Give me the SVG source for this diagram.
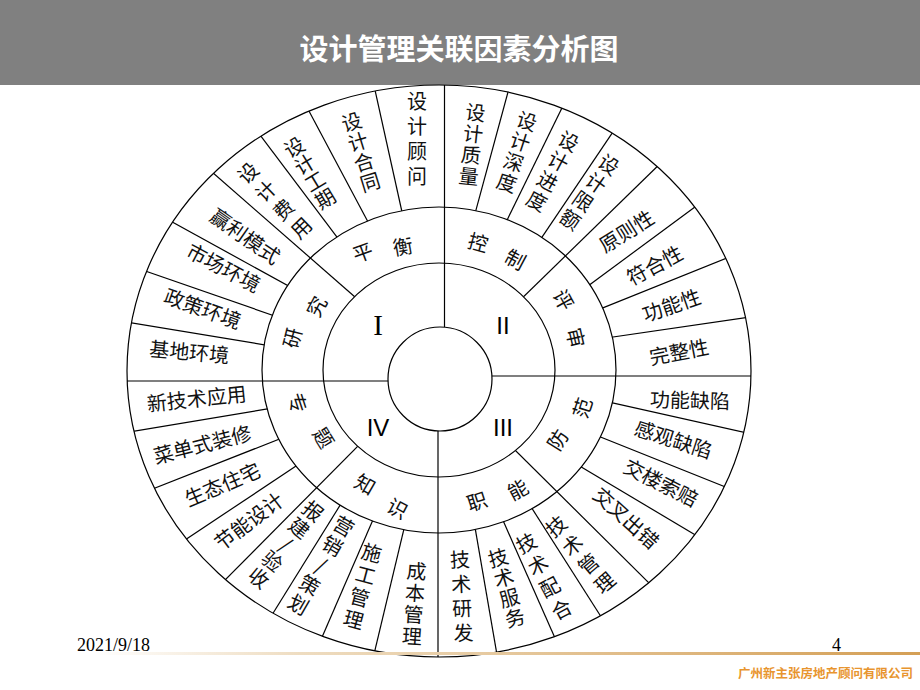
<svg xmlns="http://www.w3.org/2000/svg" width="920" height="690" viewBox="0 0 920 690">
<defs>
<style>
.ln{fill:none;stroke:#000;stroke-width:1.2}
.t{font-family:"Noto Sans CJK SC","Noto Sans CJK JP",sans-serif;font-size:20px;fill:#111;text-anchor:middle}
.rn{font-family:"Liberation Sans",Arial,sans-serif;font-size:24px;fill:#000;text-anchor:middle}
.rs{font-family:"Liberation Serif","Times New Roman",serif;font-size:29px;fill:#000;text-anchor:middle}
.ft{font-family:"Liberation Serif","Times New Roman",serif;font-size:18px;fill:#000}
</style>
<clipPath id="cA"><path clip-rule="evenodd" d="M127,371 a312,286 0 1,0 624,0 a312,286 0 1,0 -624,0 Z M262,370 a177,163 0 1,0 354,0 a177,163 0 1,0 -354,0 Z"/></clipPath>
<clipPath id="cB"><path clip-rule="evenodd" d="M127,371 a312,286 0 1,0 624,0 a312,286 0 1,0 -624,0 Z M323,370 a116,107 0 1,0 232,0 a116,107 0 1,0 -232,0 Z"/></clipPath>
<linearGradient id="fg" x1="0" x2="1" y1="0" y2="0">
<stop offset="0" stop-color="#ffffff"/>
<stop offset="0.25" stop-color="#eedcc0"/>
<stop offset="1" stop-color="#d49f55"/>
</linearGradient>
</defs>

<rect width="920" height="690" fill="#fff"/>
<g id="header">
<rect x="0" y="0" width="920" height="85" fill="#808080"/>
<text x="459" y="60" font-family="'Noto Sans CJK SC','Noto Sans CJK JP',sans-serif" font-size="29" font-weight="bold" fill="#fff" text-anchor="middle">设计管理关联因素分析图</text>
</g>

<g id="rings" class="ln">
<ellipse cx="439" cy="371" rx="312" ry="286"/>
<ellipse cx="439" cy="370" rx="177" ry="163"/>
<ellipse cx="439" cy="370" rx="116" ry="107"/>
<circle cx="440" cy="379" r="52"/>
</g>

<g id="connectors" class="ln">
<line x1="127" y1="381" x2="388" y2="381"/>
<line x1="492" y1="376" x2="751" y2="376"/>
<line x1="444.5" y1="85" x2="444.5" y2="327"/>
<line x1="438" y1="431" x2="438" y2="657"/>
<g clip-path="url(#cA)">
<line x1="371" y1="72" x2="406" y2="230"/>
<line x1="301.5" y1="97" x2="375.5" y2="236"/>
<line x1="248.5" y1="119.7" x2="348.5" y2="252.3"/>
<line x1="155" y1="212.5" x2="304" y2="294.5"/>
<line x1="129.4" y1="265.5" x2="290.6" y2="321.5"/>
<line x1="113" y1="319.7" x2="285" y2="348.3"/>
<line x1="512.8" y1="74.3" x2="471.2" y2="227.7"/>
<line x1="570" y1="91.5" x2="500" y2="234.5"/>
<line x1="623.6" y1="116.2" x2="531.4" y2="252.8"/>
<line x1="710.5" y1="195.6" x2="576.5" y2="294.4"/>
<line x1="745.3" y1="250.6" x2="586.7" y2="314.4"/>
<line x1="770.5" y1="314" x2="592.5" y2="340"/>
<line x1="115" y1="434.3" x2="287" y2="405.7"/>
<line x1="136.7" y1="495.2" x2="295.3" y2="432.8"/>
<line x1="172.2" y1="548.5" x2="308.8" y2="457.5"/>
<line x1="265.4" y1="625.5" x2="348.6" y2="491.5"/>
<line x1="315.6" y1="652" x2="379.4" y2="505"/>
<line x1="370.8" y1="667.6" x2="407.2" y2="515.4"/>
<line x1="500.2" y1="673.3" x2="472.8" y2="514.7"/>
<line x1="562.5" y1="655" x2="497.5" y2="508"/>
<line x1="607.75" y1="627.3" x2="523.25" y2="494.7"/>
<line x1="708.4" y1="542.75" x2="566.6" y2="458.25"/>
<line x1="746.75" y1="495.5" x2="584.25" y2="430.5"/>
<line x1="762.5" y1="436.4" x2="593.5" y2="398.6"/>
</g>
<g clip-path="url(#cB)">
<line x1="192" y1="154.5" x2="375" y2="314.5"/>
<line x1="678" y1="146.3" x2="503" y2="316.7"/>
<line x1="211" y1="594.2" x2="376" y2="427.8"/>
<line x1="667.5" y1="601.4" x2="498.5" y2="433.6"/>
</g>
</g>

<!-- quadrant numerals -->
<g id="q1"><text class="rs" x="378" y="335">I</text></g>
<g id="q2"><text class="rn" x="503" y="334">II</text></g>
<g id="q3"><text class="rn" x="503" y="436">III</text></g>
<g id="q4"><text class="rn" x="378" y="436">IV</text></g>

<!-- middle ring labels -->
<g id="m-pingheng">
<text class="t" transform="translate(363,253) rotate(-20)" y="7">平</text>
<text class="t" transform="translate(403,247) rotate(-10)" y="7">衡</text>
</g>
<g id="m-kongzhi">
<text class="t" transform="translate(478,243) rotate(15)" y="7">控</text>
<text class="t" transform="translate(515,260) rotate(28)" y="7">制</text>
</g>
<g id="m-pingshen">
<text class="t" transform="translate(563,300) rotate(61)" y="7">评</text>
<text class="t" transform="translate(575,338) rotate(77)" y="7">审</text>
</g>
<g id="m-fangfan">
<text class="t" transform="translate(558,440) rotate(-58)" y="7">防</text>
<text class="t" transform="translate(583,408) rotate(-72)" y="7">范</text>
</g>
<g id="m-zhineng">
<text class="t" transform="translate(477,502) rotate(-18)" y="7">职</text>
<text class="t" transform="translate(518,490) rotate(-28)" y="7">能</text>
</g>
<g id="m-zhishi">
<text class="t" transform="translate(365,485) rotate(30)" y="7">知</text>
<text class="t" transform="translate(397,509) rotate(28)" y="7">识</text>
</g>
<g id="m-zhuanti">
<text class="t" transform="translate(297,403) rotate(72)" y="7">专</text>
<text class="t" transform="translate(323,438) rotate(58)" y="7">题</text>
</g>
<g id="m-yanjiu">
<text class="t" transform="translate(293,338) rotate(-76)" y="7">研</text>
<text class="t" transform="translate(317,307) rotate(-62)" y="7">究</text>
</g>

<!-- upper-left outer -->
<g id="o-guwen"><text class="t" transform="translate(417,139.5)"><tspan x="0" y="-30.5">设</tspan><tspan x="0" y="-5.5">计</tspan><tspan x="0" y="19.5">顾</tspan><tspan x="0" y="44.5">问</tspan></text></g>
<g id="o-hetong"><text class="t" transform="translate(361,152.5) rotate(-17)"><tspan x="0" y="-24.5">设</tspan><tspan x="0" y="-3.5">计</tspan><tspan x="0" y="17.5">合</tspan><tspan x="0" y="38.5">同</tspan></text></g>
<g id="o-gongqi"><text class="t" transform="translate(310,173.3) rotate(-31)"><tspan x="0" y="-23">设</tspan><tspan x="0" y="-3">计</tspan><tspan x="0" y="17">工</tspan><tspan x="0" y="37">期</tspan></text></g>
<g id="o-feiyong"><text class="t" transform="translate(275,200.8) rotate(-44)"><tspan x="0" y="-31.25">设</tspan><tspan x="0" y="-5.75">计</tspan><tspan x="0" y="19.75">费</tspan><tspan x="0" y="45.25">用</tspan></text></g>
<g id="o-yingli"><text class="t" transform="translate(245,236.7) rotate(35)" y="7">赢利模式</text></g>
<g id="o-shichang"><text class="t" transform="translate(223.3,268.3) rotate(28)" y="7">市场环境</text></g>
<g id="o-zhengce"><text class="t" transform="translate(202.5,309.2) rotate(20)" y="7">政策环境</text></g>
<g id="o-jidi"><text class="t" transform="translate(189.2,352.5) rotate(5)" y="7">基地环境</text></g>

<!-- upper-right outer -->
<g id="o-zhiliang"><text class="t" transform="translate(472,145) rotate(6)"><tspan x="0" y="-25.1">设</tspan><tspan x="0" y="-3.7">计</tspan><tspan x="0" y="17.7">质</tspan><tspan x="0" y="39.1">量</tspan></text></g>
<g id="o-shendu"><text class="t" transform="translate(516.7,152.5) rotate(18)"><tspan x="0" y="-25.4">设</tspan><tspan x="0" y="-3.8">计</tspan><tspan x="0" y="17.8">深</tspan><tspan x="0" y="39.4">度</tspan></text></g>
<g id="o-jindu"><text class="t" transform="translate(552.5,171.7) rotate(28)"><tspan x="0" y="-26.9">设</tspan><tspan x="0" y="-4.3">计</tspan><tspan x="0" y="18.3">进</tspan><tspan x="0" y="40.9">度</tspan></text></g>
<g id="o-xiane"><text class="t" transform="translate(589.2,192.5) rotate(35)"><tspan x="0" y="-26.5">设</tspan><tspan x="0" y="-4.2">计</tspan><tspan x="0" y="18.2">限</tspan><tspan x="0" y="40.5">额</tspan></text></g>
<g id="o-yuanze"><text class="t" transform="translate(626.7,231.7) rotate(-32)" y="7">原则性</text></g>
<g id="o-fuhe"><text class="t" transform="translate(655,265.8) rotate(-28)" y="7">符合性</text></g>
<g id="o-gongneng"><text class="t" transform="translate(671.7,305.8) rotate(-19)" y="7">功能性</text></g>
<g id="o-wanzheng"><text class="t" transform="translate(679.2,352.5) rotate(-11)" y="7">完整性</text></g>

<!-- lower-left outer -->
<g id="o-xinjishu"><text class="t" transform="translate(196.7,399.2) rotate(-6)" y="7">新技术应用</text></g>
<g id="o-caidan"><text class="t" transform="translate(202.5,445) rotate(-14)" y="7">菜单式装修</text></g>
<g id="o-shengtai"><text class="t" transform="translate(222.5,485) rotate(-23)" y="7">生态住宅</text></g>
<g id="o-jieneng"><text class="t" transform="translate(249.2,521.7) rotate(-37)" y="7">节能设计</text></g>
<g id="o-baojian"><text class="t" transform="translate(285.5,545) rotate(39)"><tspan x="0" y="-36">报</tspan><tspan x="0" y="-14.5">建</tspan><tspan x="0" y="7">/</tspan><tspan x="0" y="28.5">验</tspan><tspan x="0" y="50">收</tspan></text></g>
<g id="o-yingxiao"><text class="t" transform="translate(320.8,565.8) rotate(30)"><tspan x="0" y="-38.2">营</tspan><tspan x="0" y="-15.6">销</tspan><tspan x="0" y="7">/</tspan><tspan x="0" y="29.6">策</tspan><tspan x="0" y="52.2">划</tspan></text></g>
<g id="o-shigong"><text class="t" transform="translate(362.5,586.7) rotate(15)"><tspan x="0" y="-27.5">施</tspan><tspan x="0" y="-4.5">工</tspan><tspan x="0" y="18.5">管</tspan><tspan x="0" y="41.5">理</tspan></text></g>
<g id="o-chengben"><text class="t" transform="translate(414.2,604.2) rotate(4)"><tspan x="0" y="-25.5">成</tspan><tspan x="0" y="-3.8">本</tspan><tspan x="0" y="17.8">管</tspan><tspan x="0" y="39.5">理</tspan></text></g>

<!-- lower-right outer -->
<g id="o-yanfa"><text class="t" transform="translate(461.7,596.7) rotate(-2.6)"><tspan x="0" y="-29.7">技</tspan><tspan x="0" y="-5.2">术</tspan><tspan x="0" y="19.2">研</tspan><tspan x="0" y="43.7">发</tspan></text></g>
<g id="o-fuwu"><text class="t" transform="translate(506.7,588.3) rotate(-15.5)"><tspan x="0" y="-24.2">技</tspan><tspan x="0" y="-3.4">术</tspan><tspan x="0" y="17.4">服</tspan><tspan x="0" y="38.2">务</tspan></text></g>
<g id="o-peihe"><text class="t" transform="translate(544.2,576.7) rotate(-28)"><tspan x="0" y="-30.6">技</tspan><tspan x="0" y="-5.5">术</tspan><tspan x="0" y="19.5">配</tspan><tspan x="0" y="44.6">合</tspan></text></g>
<g id="o-jsguanli"><text class="t" transform="translate(580.8,555) rotate(-40.5)"><tspan x="0" y="-30.2">技</tspan><tspan x="0" y="-5.4">术</tspan><tspan x="0" y="19.4">管</tspan><tspan x="0" y="44.2">理</tspan></text></g>
<g id="o-jiaocha"><text class="t" transform="translate(625.8,518.3) rotate(42)" y="7">交叉出错</text></g>
<g id="o-jiaolou"><text class="t" transform="translate(660.8,483.3) rotate(27)" y="7">交楼索赔</text></g>
<g id="o-ganguan"><text class="t" transform="translate(673.3,440) rotate(18)" y="7">感观缺陷</text></g>
<g id="o-gnquexian"><text class="t" transform="translate(690,400.8) rotate(1.5)" y="7">功能缺陷</text></g>

<g id="footer">
<rect x="95" y="652" width="825" height="3" fill="url(#fg)"/>
<text class="ft" x="77" y="651">2021/9/18</text>
<text class="ft" x="832" y="651">4</text>
<text x="913" y="678" font-family="'Noto Sans CJK SC','Noto Sans CJK JP',sans-serif" font-size="12.5" font-weight="bold" fill="#e8952f" text-anchor="end">广州新主张房地产顾问有限公司</text>
</g>
</svg>
